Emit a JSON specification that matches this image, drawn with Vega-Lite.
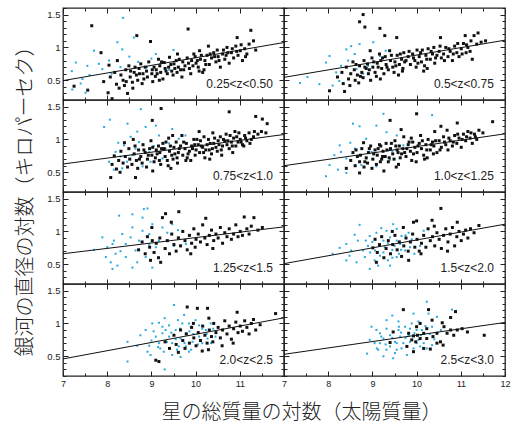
{
"$schema":"https://vega.github.io/schema/vega-lite/v6.json",
"padding":{"left":16,"top":2,"right":2,"bottom":5},
"datasets":{"d":[
{"p":1,"k":"f","a":0.495,"b":1.075,"lab":"0.25<z<0.50"},
{"p":2,"k":"f","a":0.545,"b":1.11,"lab":"0.5<z<0.75"},
{"p":3,"k":"f","a":0.626,"b":1.075,"lab":"0.75<z<1.0"},
{"p":4,"k":"f","a":0.6,"b":1.085,"lab":"1.0<z<1.25"},
{"p":5,"k":"f","a":0.66,"b":1.07,"lab":"1.25<z<1.5"},
{"p":6,"k":"f","a":0.51,"b":1.11,"lab":"1.5<z<2.0"},
{"p":7,"k":"f","a":0.46,"b":1.085,"lab":"2.0<z<2.5"},
{"p":8,"k":"f","a":0.53,"b":1.015,"lab":"2.5<z<3.0"},
{"p":1,"k":"q","x":8.36,"y":1.45},{"p":1,"k":"q","x":7.2,"y":0.64},{"p":1,"k":"q","x":7.29,"y":0.77},{"p":1,"k":"q","x":7.55,"y":0.72},{"p":1,"k":"q","x":7.44,"y":0.52},{"p":1,"k":"q","x":7.51,"y":0.31},{"p":1,"k":"q","x":7.21,"y":0.36},{"p":1,"k":"q","x":7.7,"y":0.95},{"p":1,"k":"q","x":8.6,"y":1.15},{"p":1,"k":"q","x":8.23,"y":1.08},{"p":1,"k":"q","x":8.34,"y":0.97},{"p":1,"k":"q","x":8.04,"y":0.8},{"p":1,"k":"q","x":7.81,"y":0.75},{"p":1,"k":"q","x":7.89,"y":0.67},{"p":1,"k":"q","x":8.1,"y":0.6},{"p":1,"k":"q","x":8.5,"y":0.86},{"p":1,"k":"q","x":8.7,"y":0.78},{"p":1,"k":"q","x":8.9,"y":0.7},{"p":1,"k":"q","x":9.1,"y":0.9},{"p":1,"k":"q","x":9.2,"y":0.75},{"p":1,"k":"q","x":9.4,"y":0.66},{"p":1,"k":"q","x":7.6,"y":0.58},{"p":1,"k":"q","x":8.3,"y":0.7},{"p":1,"k":"q","x":9.0,"y":0.83},{"p":1,"k":"q","x":7.4,"y":0.45},{"p":1,"k":"q","x":9.5,"y":0.96},
{"p":1,"k":"s","x":7.25,"y":0.41},{"p":1,"k":"s","x":7.56,"y":0.35},{"p":1,"k":"s","x":7.65,"y":1.33},{"p":1,"k":"s","x":7.86,"y":0.92},{"p":1,"k":"s","x":7.92,"y":0.48},{"p":1,"k":"s","x":8.02,"y":0.31},{"p":1,"k":"s","x":8.04,"y":0.73},{"p":1,"k":"s","x":8.07,"y":0.55},{"p":1,"k":"s","x":8.11,"y":0.22},{"p":1,"k":"s","x":8.17,"y":0.62},{"p":1,"k":"s","x":8.21,"y":0.44},{"p":1,"k":"s","x":8.23,"y":0.8},{"p":1,"k":"s","x":8.27,"y":0.38},{"p":1,"k":"s","x":8.31,"y":0.58},{"p":1,"k":"s","x":8.36,"y":0.5},{"p":1,"k":"s","x":8.42,"y":0.66},{"p":1,"k":"s","x":8.39,"y":0.42},{"p":1,"k":"s","x":8.46,"y":0.3},{"p":1,"k":"s","x":8.52,"y":0.55},{"p":1,"k":"s","x":8.49,"y":0.72},{"p":1,"k":"s","x":8.57,"y":0.47},{"p":1,"k":"s","x":8.61,"y":0.62},{"p":1,"k":"s","x":8.58,"y":0.38},{"p":1,"k":"s","x":8.66,"y":0.58},{"p":1,"k":"s","x":8.67,"y":1.18},{"p":1,"k":"s","x":8.72,"y":0.68},{"p":1,"k":"s","x":8.69,"y":0.5},{"p":1,"k":"s","x":8.76,"y":0.75},{"p":1,"k":"s","x":8.81,"y":0.6},{"p":1,"k":"s","x":8.79,"y":0.45},{"p":1,"k":"s","x":8.86,"y":0.7},{"p":1,"k":"s","x":8.91,"y":0.55},{"p":1,"k":"s","x":8.89,"y":0.64},{"p":1,"k":"s","x":8.94,"y":0.78},{"p":1,"k":"s","x":8.98,"y":1.09},{"p":1,"k":"s","x":9.01,"y":0.6},{"p":1,"k":"s","x":9.03,"y":0.48},{"p":1,"k":"s","x":9.06,"y":0.7},{"p":1,"k":"s","x":9.11,"y":0.66},{"p":1,"k":"s","x":9.09,"y":0.56},{"p":1,"k":"s","x":9.16,"y":0.82},{"p":1,"k":"s","x":9.21,"y":0.62},{"p":1,"k":"s","x":9.19,"y":0.72},{"p":1,"k":"s","x":9.26,"y":0.52},{"p":1,"k":"s","x":9.31,"y":0.68},{"p":1,"k":"s","x":9.29,"y":0.77},{"p":1,"k":"s","x":9.36,"y":0.6},{"p":1,"k":"s","x":9.41,"y":0.85},{"p":1,"k":"s","x":9.39,"y":0.7},{"p":1,"k":"s","x":9.46,"y":0.64},{"p":1,"k":"s","x":9.51,"y":0.75},{"p":1,"k":"s","x":9.49,"y":0.58},{"p":1,"k":"s","x":9.56,"y":0.8},{"p":1,"k":"s","x":9.61,"y":0.7},{"p":1,"k":"s","x":9.59,"y":0.9},{"p":1,"k":"s","x":9.66,"y":0.66},{"p":1,"k":"s","x":9.71,"y":0.78},{"p":1,"k":"s","x":9.69,"y":0.55},{"p":1,"k":"s","x":9.76,"y":0.72},{"p":1,"k":"s","x":9.81,"y":0.84},{"p":1,"k":"s","x":9.83,"y":1.28},{"p":1,"k":"s","x":9.86,"y":0.68},{"p":1,"k":"s","x":9.91,"y":0.8},{"p":1,"k":"s","x":9.89,"y":0.6},{"p":1,"k":"s","x":9.96,"y":0.9},{"p":1,"k":"s","x":10.01,"y":0.76},{"p":1,"k":"s","x":9.99,"y":0.86},{"p":1,"k":"s","x":10.06,"y":0.7},{"p":1,"k":"s","x":10.11,"y":0.82},{"p":1,"k":"s","x":10.09,"y":0.95},{"p":1,"k":"s","x":10.16,"y":0.62},{"p":1,"k":"s","x":10.21,"y":0.8},{"p":1,"k":"s","x":10.19,"y":0.66},{"p":1,"k":"s","x":10.26,"y":0.88},{"p":1,"k":"s","x":10.31,"y":0.74},{"p":1,"k":"s","x":10.29,"y":1.02},{"p":1,"k":"s","x":10.36,"y":0.84},{"p":1,"k":"s","x":10.41,"y":0.92},{"p":1,"k":"s","x":10.46,"y":0.78},{"p":1,"k":"s","x":10.51,"y":0.86},{"p":1,"k":"s","x":10.49,"y":0.96},{"p":1,"k":"s","x":10.56,"y":0.7},{"p":1,"k":"s","x":10.61,"y":0.9},{"p":1,"k":"s","x":10.66,"y":0.82},{"p":1,"k":"s","x":10.71,"y":1.0},{"p":1,"k":"s","x":10.69,"y":0.88},{"p":1,"k":"s","x":10.76,"y":0.76},{"p":1,"k":"s","x":10.81,"y":0.92},{"p":1,"k":"s","x":10.86,"y":0.84},{"p":1,"k":"s","x":10.91,"y":1.02},{"p":1,"k":"s","x":10.94,"y":1.15},{"p":1,"k":"s","x":10.96,"y":0.88},{"p":1,"k":"s","x":11.01,"y":0.95},{"p":1,"k":"s","x":11.06,"y":0.8},{"p":1,"k":"s","x":11.11,"y":0.98},{"p":1,"k":"s","x":11.16,"y":0.9},{"p":1,"k":"s","x":11.21,"y":1.05},{"p":1,"k":"s","x":11.25,"y":1.26},{"p":1,"k":"s","x":11.31,"y":1.1},{"p":1,"k":"s","x":11.36,"y":0.96},
{"p":1,"k":"s","x":9.02,"y":0.66},{"p":1,"k":"s","x":9.13,"y":0.6},{"p":1,"k":"s","x":9.23,"y":0.78},{"p":1,"k":"s","x":9.33,"y":0.64},{"p":1,"k":"s","x":9.44,"y":0.74},{"p":1,"k":"s","x":9.53,"y":0.68},{"p":1,"k":"s","x":9.63,"y":0.82},{"p":1,"k":"s","x":9.73,"y":0.66},{"p":1,"k":"s","x":9.84,"y":0.76},{"p":1,"k":"s","x":9.94,"y":0.72},{"p":1,"k":"s","x":10.04,"y":0.8},{"p":1,"k":"s","x":10.13,"y":0.88},{"p":1,"k":"s","x":10.23,"y":0.74},{"p":1,"k":"s","x":10.33,"y":0.9},{"p":1,"k":"s","x":10.43,"y":0.86},{"p":1,"k":"s","x":10.53,"y":0.8},{"p":1,"k":"s","x":10.63,"y":0.96},{"p":1,"k":"s","x":10.73,"y":0.92},{"p":1,"k":"s","x":10.83,"y":0.98},{"p":1,"k":"s","x":10.93,"y":0.94},{"p":1,"k":"s","x":11.03,"y":1.04},{"p":1,"k":"s","x":11.13,"y":0.86},{"p":1,"k":"s","x":8.83,"y":0.52},{"p":1,"k":"s","x":8.73,"y":0.6},{"p":1,"k":"s","x":8.63,"y":0.7},{"p":1,"k":"s","x":8.53,"y":0.64},{"p":1,"k":"s","x":8.43,"y":0.48},{"p":1,"k":"s","x":9.18,"y":0.5},{"p":1,"k":"s","x":9.58,"y":0.62},{"p":1,"k":"s","x":10.08,"y":0.64},
{"p":2,"k":"q","x":7.36,"y":0.46},{"p":2,"k":"q","x":7.53,"y":0.55},{"p":2,"k":"q","x":7.8,"y":0.44},{"p":2,"k":"q","x":7.95,"y":0.77},{"p":2,"k":"q","x":8.03,"y":0.87},{"p":2,"k":"q","x":8.18,"y":0.62},{"p":2,"k":"q","x":8.29,"y":0.72},{"p":2,"k":"q","x":8.41,"y":0.97},{"p":2,"k":"q","x":8.52,"y":1.02},{"p":2,"k":"q","x":8.6,"y":0.9},{"p":2,"k":"q","x":8.71,"y":1.05},{"p":2,"k":"q","x":8.64,"y":0.67},{"p":2,"k":"q","x":8.79,"y":0.6},{"p":2,"k":"q","x":8.1,"y":0.42},{"p":2,"k":"q","x":9.02,"y":1.08},{"p":2,"k":"q","x":9.17,"y":0.87},{"p":2,"k":"q","x":8.25,"y":0.49},{"p":2,"k":"q","x":8.45,"y":0.8},{"p":2,"k":"q","x":8.9,"y":0.72},{"p":2,"k":"q","x":9.3,"y":0.95},
{"p":2,"k":"s","x":8.03,"y":0.34},{"p":2,"k":"s","x":8.37,"y":0.33},{"p":2,"k":"s","x":8.21,"y":0.55},{"p":2,"k":"s","x":8.31,"y":0.62},{"p":2,"k":"s","x":8.34,"y":0.45},{"p":2,"k":"s","x":8.41,"y":0.7},{"p":2,"k":"s","x":8.46,"y":0.52},{"p":2,"k":"s","x":8.51,"y":0.6},{"p":2,"k":"s","x":8.49,"y":0.42},{"p":2,"k":"s","x":8.56,"y":0.78},{"p":2,"k":"s","x":8.61,"y":0.5},{"p":2,"k":"s","x":8.59,"y":0.66},{"p":2,"k":"s","x":8.66,"y":0.58},{"p":2,"k":"s","x":8.71,"y":0.72},{"p":2,"k":"s","x":8.69,"y":0.46},{"p":2,"k":"s","x":8.71,"y":1.39},{"p":2,"k":"s","x":8.76,"y":0.62},{"p":2,"k":"s","x":8.79,"y":1.5},{"p":2,"k":"s","x":8.81,"y":0.8},{"p":2,"k":"s","x":8.79,"y":0.54},{"p":2,"k":"s","x":8.83,"y":1.31},{"p":2,"k":"s","x":8.86,"y":0.68},{"p":2,"k":"s","x":8.91,"y":0.6},{"p":2,"k":"s","x":8.89,"y":0.75},{"p":2,"k":"s","x":8.96,"y":0.5},{"p":2,"k":"s","x":8.95,"y":0.95},{"p":2,"k":"s","x":9.01,"y":0.7},{"p":2,"k":"s","x":8.99,"y":0.84},{"p":2,"k":"s","x":9.06,"y":0.62},{"p":2,"k":"s","x":9.11,"y":0.76},{"p":2,"k":"s","x":9.09,"y":0.56},{"p":2,"k":"s","x":9.16,"y":0.9},{"p":2,"k":"s","x":9.17,"y":1.29},{"p":2,"k":"s","x":9.21,"y":0.68},{"p":2,"k":"s","x":9.19,"y":0.8},{"p":2,"k":"s","x":9.26,"y":0.6},{"p":2,"k":"s","x":9.28,"y":1.18},{"p":2,"k":"s","x":9.31,"y":0.74},{"p":2,"k":"s","x":9.29,"y":0.86},{"p":2,"k":"s","x":9.36,"y":0.66},{"p":2,"k":"s","x":9.41,"y":0.8},{"p":2,"k":"s","x":9.39,"y":0.95},{"p":2,"k":"s","x":9.46,"y":0.7},{"p":2,"k":"s","x":9.51,"y":0.78},{"p":2,"k":"s","x":9.49,"y":0.62},{"p":2,"k":"s","x":9.55,"y":1.15},{"p":2,"k":"s","x":9.56,"y":0.88},{"p":2,"k":"s","x":9.61,"y":0.74},{"p":2,"k":"s","x":9.59,"y":0.58},{"p":2,"k":"s","x":9.66,"y":0.82},{"p":2,"k":"s","x":9.71,"y":0.92},{"p":2,"k":"s","x":9.69,"y":0.68},{"p":2,"k":"s","x":9.76,"y":0.8},{"p":2,"k":"s","x":9.81,"y":0.86},{"p":2,"k":"s","x":9.86,"y":0.74},{"p":2,"k":"s","x":9.91,"y":0.9},{"p":2,"k":"s","x":9.96,"y":0.8},{"p":2,"k":"s","x":10.01,"y":0.96},{"p":2,"k":"s","x":9.99,"y":0.7},{"p":2,"k":"s","x":10.06,"y":0.86},{"p":2,"k":"s","x":10.11,"y":0.78},{"p":2,"k":"s","x":10.09,"y":0.92},{"p":2,"k":"s","x":10.16,"y":0.64},{"p":2,"k":"s","x":10.21,"y":0.88},{"p":2,"k":"s","x":10.26,"y":0.98},{"p":2,"k":"s","x":10.24,"y":0.68},{"p":2,"k":"s","x":10.31,"y":0.82},{"p":2,"k":"s","x":10.36,"y":0.9},{"p":2,"k":"s","x":10.41,"y":0.76},{"p":2,"k":"s","x":10.39,"y":1.0},{"p":2,"k":"s","x":10.46,"y":0.88},{"p":2,"k":"s","x":10.51,"y":0.94},{"p":2,"k":"s","x":10.54,"y":1.15},{"p":2,"k":"s","x":10.56,"y":0.84},{"p":2,"k":"s","x":10.61,"y":0.9},{"p":2,"k":"s","x":10.66,"y":1.0},{"p":2,"k":"s","x":10.71,"y":0.86},{"p":2,"k":"s","x":10.76,"y":0.94},{"p":2,"k":"s","x":10.81,"y":0.8},{"p":2,"k":"s","x":10.86,"y":1.02},{"p":2,"k":"s","x":10.91,"y":0.92},{"p":2,"k":"s","x":10.96,"y":0.86},{"p":2,"k":"s","x":11.01,"y":0.98},{"p":2,"k":"s","x":11.06,"y":1.06},{"p":2,"k":"s","x":11.1,"y":1.18},{"p":2,"k":"s","x":11.12,"y":0.92},{"p":2,"k":"s","x":11.16,"y":1.0},{"p":2,"k":"s","x":11.21,"y":0.94},{"p":2,"k":"s","x":11.26,"y":0.82},{"p":2,"k":"s","x":11.3,"y":1.18},{"p":2,"k":"s","x":11.36,"y":1.05},{"p":2,"k":"s","x":11.39,"y":1.22},{"p":2,"k":"s","x":11.46,"y":1.08},{"p":2,"k":"s","x":11.56,"y":1.1},
{"p":2,"k":"s","x":9.03,"y":0.78},{"p":2,"k":"s","x":9.13,"y":0.7},{"p":2,"k":"s","x":9.23,"y":0.84},{"p":2,"k":"s","x":9.33,"y":0.7},{"p":2,"k":"s","x":9.43,"y":0.88},{"p":2,"k":"s","x":9.53,"y":0.72},{"p":2,"k":"s","x":9.63,"y":0.9},{"p":2,"k":"s","x":9.73,"y":0.78},{"p":2,"k":"s","x":9.83,"y":0.94},{"p":2,"k":"s","x":9.93,"y":0.84},{"p":2,"k":"s","x":10.03,"y":0.76},{"p":2,"k":"s","x":10.13,"y":0.96},{"p":2,"k":"s","x":10.23,"y":0.82},{"p":2,"k":"s","x":10.33,"y":0.94},{"p":2,"k":"s","x":10.43,"y":0.84},{"p":2,"k":"s","x":10.53,"y":1.02},{"p":2,"k":"s","x":10.63,"y":0.8},{"p":2,"k":"s","x":10.73,"y":0.98},{"p":2,"k":"s","x":10.83,"y":0.9},{"p":2,"k":"s","x":10.93,"y":1.06},{"p":2,"k":"s","x":11.03,"y":0.9},{"p":2,"k":"s","x":11.13,"y":1.04},{"p":2,"k":"s","x":11.23,"y":1.1},{"p":2,"k":"s","x":8.63,"y":0.74},{"p":2,"k":"s","x":8.73,"y":0.56},{"p":2,"k":"s","x":8.83,"y":0.7},{"p":2,"k":"s","x":8.93,"y":0.66},{"p":2,"k":"s","x":9.18,"y":0.52},{"p":2,"k":"s","x":9.68,"y":0.64},{"p":2,"k":"s","x":10.18,"y":0.72},
{"p":3,"k":"q","x":7.93,"y":1.19},{"p":3,"k":"q","x":8.06,"y":1.3},{"p":3,"k":"q","x":8.46,"y":1.24},{"p":3,"k":"q","x":8.76,"y":1.46},{"p":3,"k":"q","x":8.87,"y":1.19},{"p":3,"k":"q","x":9.1,"y":1.21},{"p":3,"k":"q","x":8.04,"y":0.66},{"p":3,"k":"q","x":8.19,"y":0.81},{"p":3,"k":"q","x":8.34,"y":0.56},{"p":3,"k":"q","x":8.38,"y":0.91},{"p":3,"k":"q","x":8.57,"y":0.76},{"p":3,"k":"q","x":8.72,"y":0.96},{"p":3,"k":"q","x":8.8,"y":0.59},{"p":3,"k":"q","x":8.95,"y":0.81},{"p":3,"k":"q","x":9.17,"y":1.06},{"p":3,"k":"q","x":9.32,"y":0.86},{"p":3,"k":"q","x":9.47,"y":1.16},{"p":3,"k":"q","x":9.62,"y":1.01},{"p":3,"k":"q","x":8.15,"y":0.54},{"p":3,"k":"q","x":8.3,"y":0.74},{"p":3,"k":"q","x":8.53,"y":1.04},{"p":3,"k":"q","x":8.98,"y":0.66},{"p":3,"k":"q","x":9.25,"y":0.71},{"p":3,"k":"q","x":9.4,"y":0.94},{"p":3,"k":"q","x":8.64,"y":0.86},{"p":3,"k":"q","x":9.77,"y":1.06},{"p":3,"k":"q","x":8.25,"y":0.95},{"p":3,"k":"q","x":8.68,"y":1.12},{"p":3,"k":"q","x":9.05,"y":0.9},{"p":3,"k":"q","x":8.45,"y":0.66},
{"p":3,"k":"s","x":8.08,"y":0.42},{"p":3,"k":"s","x":8.64,"y":0.42},{"p":3,"k":"s","x":8.11,"y":0.62},{"p":3,"k":"s","x":8.16,"y":0.75},{"p":3,"k":"s","x":8.21,"y":0.55},{"p":3,"k":"s","x":8.26,"y":0.68},{"p":3,"k":"s","x":8.31,"y":0.82},{"p":3,"k":"s","x":8.29,"y":0.5},{"p":3,"k":"s","x":8.36,"y":0.64},{"p":3,"k":"s","x":8.41,"y":0.74},{"p":3,"k":"s","x":8.39,"y":0.95},{"p":3,"k":"s","x":8.46,"y":0.58},{"p":3,"k":"s","x":8.51,"y":0.7},{"p":3,"k":"s","x":8.49,"y":0.86},{"p":3,"k":"s","x":8.56,"y":0.62},{"p":3,"k":"s","x":8.61,"y":0.78},{"p":3,"k":"s","x":8.59,"y":1.0},{"p":3,"k":"s","x":8.66,"y":0.68},{"p":3,"k":"s","x":8.71,"y":0.84},{"p":3,"k":"s","x":8.69,"y":0.56},{"p":3,"k":"s","x":8.76,"y":0.74},{"p":3,"k":"s","x":8.81,"y":0.92},{"p":3,"k":"s","x":8.79,"y":0.64},{"p":3,"k":"s","x":8.86,"y":0.8},{"p":3,"k":"s","x":8.91,"y":0.7},{"p":3,"k":"s","x":8.89,"y":0.58},{"p":3,"k":"s","x":8.96,"y":0.86},{"p":3,"k":"s","x":9.01,"y":0.76},{"p":3,"k":"s","x":8.99,"y":0.98},{"p":3,"k":"s","x":9.02,"y":1.29},{"p":3,"k":"s","x":9.03,"y":0.52},{"p":3,"k":"s","x":9.06,"y":0.66},{"p":3,"k":"s","x":9.11,"y":0.84},{"p":3,"k":"s","x":9.09,"y":0.72},{"p":3,"k":"s","x":9.16,"y":0.9},{"p":3,"k":"s","x":9.21,"y":0.62},{"p":3,"k":"s","x":9.19,"y":0.8},{"p":3,"k":"s","x":9.22,"y":1.47},{"p":3,"k":"s","x":9.26,"y":0.94},{"p":3,"k":"s","x":9.31,"y":0.74},{"p":3,"k":"s","x":9.29,"y":0.86},{"p":3,"k":"s","x":9.36,"y":0.68},{"p":3,"k":"s","x":9.41,"y":0.82},{"p":3,"k":"s","x":9.39,"y":1.02},{"p":3,"k":"s","x":9.46,"y":0.76},{"p":3,"k":"s","x":9.44,"y":0.56},{"p":3,"k":"s","x":9.51,"y":0.88},{"p":3,"k":"s","x":9.49,"y":0.7},{"p":3,"k":"s","x":9.56,"y":0.96},{"p":3,"k":"s","x":9.61,"y":0.8},{"p":3,"k":"s","x":9.59,"y":0.64},{"p":3,"k":"s","x":9.66,"y":0.9},{"p":3,"k":"s","x":9.71,"y":0.76},{"p":3,"k":"s","x":9.69,"y":1.06},{"p":3,"k":"s","x":9.76,"y":0.86},{"p":3,"k":"s","x":9.81,"y":0.72},{"p":3,"k":"s","x":9.79,"y":0.94},{"p":3,"k":"s","x":9.86,"y":0.82},{"p":3,"k":"s","x":9.91,"y":0.9},{"p":3,"k":"s","x":9.89,"y":0.68},{"p":3,"k":"s","x":9.96,"y":1.0},{"p":3,"k":"s","x":10.01,"y":0.84},{"p":3,"k":"s","x":9.99,"y":0.76},{"p":3,"k":"s","x":10.06,"y":0.92},{"p":3,"k":"s","x":10.11,"y":0.98},{"p":3,"k":"s","x":10.09,"y":0.8},{"p":3,"k":"s","x":10.16,"y":0.88},{"p":3,"k":"s","x":10.21,"y":0.72},{"p":3,"k":"s","x":10.19,"y":1.04},{"p":3,"k":"s","x":10.26,"y":0.92},{"p":3,"k":"s","x":10.31,"y":0.84},{"p":3,"k":"s","x":10.29,"y":1.0},{"p":3,"k":"s","x":10.32,"y":0.7},{"p":3,"k":"s","x":10.36,"y":0.78},{"p":3,"k":"s","x":10.41,"y":0.94},{"p":3,"k":"s","x":10.39,"y":1.1},{"p":3,"k":"s","x":10.46,"y":0.88},{"p":3,"k":"s","x":10.51,"y":0.98},{"p":3,"k":"s","x":10.49,"y":0.82},{"p":3,"k":"s","x":10.56,"y":1.04},{"p":3,"k":"s","x":10.61,"y":0.9},{"p":3,"k":"s","x":10.59,"y":0.76},{"p":3,"k":"s","x":10.66,"y":0.98},{"p":3,"k":"s","x":10.71,"y":0.92},{"p":3,"k":"s","x":10.69,"y":1.08},{"p":3,"k":"s","x":10.76,"y":0.86},{"p":3,"k":"s","x":10.76,"y":1.42},{"p":3,"k":"s","x":10.81,"y":0.96},{"p":3,"k":"s","x":10.86,"y":1.02},{"p":3,"k":"s","x":10.84,"y":0.8},{"p":3,"k":"s","x":10.91,"y":0.9},{"p":3,"k":"s","x":10.89,"y":1.12},{"p":3,"k":"s","x":10.96,"y":0.96},{"p":3,"k":"s","x":11.01,"y":1.0},{"p":3,"k":"s","x":11.06,"y":0.92},{"p":3,"k":"s","x":11.11,"y":1.06},{"p":3,"k":"s","x":11.09,"y":0.9},{"p":3,"k":"s","x":11.16,"y":0.98},{"p":3,"k":"s","x":11.21,"y":1.1},{"p":3,"k":"s","x":11.26,"y":1.0},{"p":3,"k":"s","x":11.31,"y":1.04},{"p":3,"k":"s","x":11.36,"y":1.35},{"p":3,"k":"s","x":11.41,"y":1.08},{"p":3,"k":"s","x":11.49,"y":1.12},{"p":3,"k":"s","x":11.51,"y":1.31},{"p":3,"k":"s","x":11.62,"y":1.24},{"p":3,"k":"s","x":11.59,"y":1.1},
{"p":3,"k":"s","x":9.03,"y":0.88},{"p":3,"k":"s","x":9.13,"y":0.78},{"p":3,"k":"s","x":9.23,"y":0.86},{"p":3,"k":"s","x":9.33,"y":0.96},{"p":3,"k":"s","x":9.43,"y":0.9},{"p":3,"k":"s","x":9.53,"y":0.78},{"p":3,"k":"s","x":9.63,"y":0.86},{"p":3,"k":"s","x":9.73,"y":0.96},{"p":3,"k":"s","x":9.83,"y":0.78},{"p":3,"k":"s","x":9.93,"y":0.86},{"p":3,"k":"s","x":10.03,"y":1.0},{"p":3,"k":"s","x":10.13,"y":0.9},{"p":3,"k":"s","x":10.23,"y":0.84},{"p":3,"k":"s","x":10.33,"y":0.94},{"p":3,"k":"s","x":10.43,"y":1.02},{"p":3,"k":"s","x":10.53,"y":0.92},{"p":3,"k":"s","x":10.63,"y":1.0},{"p":3,"k":"s","x":10.73,"y":0.98},{"p":3,"k":"s","x":10.83,"y":0.9},{"p":3,"k":"s","x":10.93,"y":1.04},{"p":3,"k":"s","x":11.03,"y":0.96},{"p":3,"k":"s","x":11.13,"y":1.02},{"p":3,"k":"s","x":11.23,"y":0.94},{"p":3,"k":"s","x":11.33,"y":1.12},{"p":3,"k":"s","x":8.63,"y":0.9},{"p":3,"k":"s","x":8.73,"y":0.7},{"p":3,"k":"s","x":8.83,"y":0.84},{"p":3,"k":"s","x":8.93,"y":0.76},{"p":3,"k":"s","x":9.18,"y":0.68},{"p":3,"k":"s","x":9.38,"y":0.6},{"p":3,"k":"s","x":9.58,"y":0.72},{"p":3,"k":"s","x":9.78,"y":0.68},{"p":3,"k":"s","x":9.98,"y":0.92},{"p":3,"k":"s","x":10.18,"y":0.8},{"p":3,"k":"s","x":10.38,"y":0.86},{"p":3,"k":"s","x":10.58,"y":0.84},{"p":3,"k":"s","x":10.78,"y":1.06},{"p":3,"k":"s","x":10.98,"y":1.1},{"p":3,"k":"s","x":9.48,"y":1.06},{"p":3,"k":"s","x":10.08,"y":1.12},
{"p":4,"k":"q","x":7.95,"y":0.44},{"p":4,"k":"q","x":8.03,"y":0.61},{"p":4,"k":"q","x":8.14,"y":0.76},{"p":4,"k":"q","x":8.26,"y":0.91},{"p":4,"k":"q","x":8.22,"y":0.54},{"p":4,"k":"q","x":8.41,"y":0.71},{"p":4,"k":"q","x":8.56,"y":1.24},{"p":4,"k":"q","x":8.71,"y":1.2},{"p":4,"k":"q","x":8.6,"y":0.86},{"p":4,"k":"q","x":8.75,"y":0.61},{"p":4,"k":"q","x":8.86,"y":1.01},{"p":4,"k":"q","x":8.98,"y":0.81},{"p":4,"k":"q","x":9.09,"y":1.21},{"p":4,"k":"q","x":9.17,"y":0.91},{"p":4,"k":"q","x":9.25,"y":1.39},{"p":4,"k":"q","x":9.32,"y":1.11},{"p":4,"k":"q","x":9.4,"y":0.69},{"p":4,"k":"q","x":9.55,"y":1.06},{"p":4,"k":"q","x":9.09,"y":0.59},{"p":4,"k":"q","x":10.35,"y":1.37},{"p":4,"k":"q","x":8.86,"y":0.71},{"p":4,"k":"q","x":8.41,"y":0.49},{"p":4,"k":"q","x":8.29,"y":0.81},{"p":4,"k":"q","x":9.7,"y":0.91},{"p":4,"k":"q","x":9.93,"y":0.96},{"p":4,"k":"q","x":8.5,"y":0.95},{"p":4,"k":"q","x":9.0,"y":0.7},{"p":4,"k":"q","x":9.45,"y":0.82},
{"p":4,"k":"s","x":8.41,"y":0.56},{"p":4,"k":"s","x":8.71,"y":0.49},{"p":4,"k":"s","x":8.51,"y":0.68},{"p":4,"k":"s","x":8.56,"y":0.8},{"p":4,"k":"s","x":8.61,"y":0.6},{"p":4,"k":"s","x":8.66,"y":0.74},{"p":4,"k":"s","x":8.71,"y":0.66},{"p":4,"k":"s","x":8.76,"y":0.86},{"p":4,"k":"s","x":8.81,"y":0.58},{"p":4,"k":"s","x":8.8,"y":0.95},{"p":4,"k":"s","x":8.86,"y":0.72},{"p":4,"k":"s","x":8.91,"y":0.8},{"p":4,"k":"s","x":8.89,"y":0.64},{"p":4,"k":"s","x":8.96,"y":0.9},{"p":4,"k":"s","x":9.01,"y":0.7},{"p":4,"k":"s","x":8.99,"y":0.56},{"p":4,"k":"s","x":9.06,"y":0.84},{"p":4,"k":"s","x":9.11,"y":0.76},{"p":4,"k":"s","x":9.09,"y":0.62},{"p":4,"k":"s","x":9.16,"y":0.92},{"p":4,"k":"s","x":9.21,"y":0.7},{"p":4,"k":"s","x":9.19,"y":0.9},{"p":4,"k":"s","x":9.26,"y":0.52},{"p":4,"k":"s","x":9.24,"y":0.82},{"p":4,"k":"s","x":9.31,"y":0.94},{"p":4,"k":"s","x":9.29,"y":0.74},{"p":4,"k":"s","x":9.36,"y":0.66},{"p":4,"k":"s","x":9.4,"y":1.29},{"p":4,"k":"s","x":9.41,"y":0.86},{"p":4,"k":"s","x":9.46,"y":0.78},{"p":4,"k":"s","x":9.51,"y":0.98},{"p":4,"k":"s","x":9.49,"y":0.7},{"p":4,"k":"s","x":9.56,"y":0.84},{"p":4,"k":"s","x":9.54,"y":0.58},{"p":4,"k":"s","x":9.61,"y":0.9},{"p":4,"k":"s","x":9.59,"y":0.62},{"p":4,"k":"s","x":9.66,"y":0.78},{"p":4,"k":"s","x":9.65,"y":1.15},{"p":4,"k":"s","x":9.71,"y":1.04},{"p":4,"k":"s","x":9.69,"y":0.86},{"p":4,"k":"s","x":9.76,"y":0.74},{"p":4,"k":"s","x":9.81,"y":0.92},{"p":4,"k":"s","x":9.86,"y":0.82},{"p":4,"k":"s","x":9.91,"y":0.96},{"p":4,"k":"s","x":9.89,"y":0.68},{"p":4,"k":"s","x":9.96,"y":0.88},{"p":4,"k":"s","x":10.0,"y":1.39},{"p":4,"k":"s","x":10.01,"y":0.8},{"p":4,"k":"s","x":9.99,"y":0.66},{"p":4,"k":"s","x":10.06,"y":0.94},{"p":4,"k":"s","x":10.11,"y":0.86},{"p":4,"k":"s","x":10.09,"y":1.06},{"p":4,"k":"s","x":10.16,"y":0.76},{"p":4,"k":"s","x":10.21,"y":0.92},{"p":4,"k":"s","x":10.26,"y":1.0},{"p":4,"k":"s","x":10.24,"y":0.72},{"p":4,"k":"s","x":10.31,"y":0.84},{"p":4,"k":"s","x":10.36,"y":0.96},{"p":4,"k":"s","x":10.41,"y":1.12},{"p":4,"k":"s","x":10.39,"y":0.9},{"p":4,"k":"s","x":10.46,"y":0.8},{"p":4,"k":"s","x":10.51,"y":0.98},{"p":4,"k":"s","x":10.56,"y":0.88},{"p":4,"k":"s","x":10.55,"y":1.2},{"p":4,"k":"s","x":10.61,"y":1.04},{"p":4,"k":"s","x":10.66,"y":0.92},{"p":4,"k":"s","x":10.71,"y":0.84},{"p":4,"k":"s","x":10.69,"y":1.14},{"p":4,"k":"s","x":10.76,"y":0.98},{"p":4,"k":"s","x":10.81,"y":0.9},{"p":4,"k":"s","x":10.86,"y":1.06},{"p":4,"k":"s","x":10.92,"y":1.25},{"p":4,"k":"s","x":10.91,"y":0.94},{"p":4,"k":"s","x":10.96,"y":1.02},{"p":4,"k":"s","x":11.01,"y":0.88},{"p":4,"k":"s","x":11.06,"y":1.08},{"p":4,"k":"s","x":11.11,"y":0.98},{"p":4,"k":"s","x":11.16,"y":1.12},{"p":4,"k":"s","x":11.21,"y":1.02},{"p":4,"k":"s","x":11.26,"y":0.94},{"p":4,"k":"s","x":11.31,"y":1.08},{"p":4,"k":"s","x":11.36,"y":1.0},{"p":4,"k":"s","x":11.41,"y":1.14},{"p":4,"k":"s","x":11.5,"y":1.1},{"p":4,"k":"s","x":11.72,"y":1.27},
{"p":4,"k":"s","x":9.03,"y":0.78},{"p":4,"k":"s","x":9.13,"y":0.86},{"p":4,"k":"s","x":9.23,"y":0.74},{"p":4,"k":"s","x":9.33,"y":0.84},{"p":4,"k":"s","x":9.43,"y":0.94},{"p":4,"k":"s","x":9.53,"y":0.9},{"p":4,"k":"s","x":9.63,"y":0.72},{"p":4,"k":"s","x":9.73,"y":0.8},{"p":4,"k":"s","x":9.83,"y":0.96},{"p":4,"k":"s","x":9.93,"y":0.78},{"p":4,"k":"s","x":10.03,"y":0.9},{"p":4,"k":"s","x":10.13,"y":0.98},{"p":4,"k":"s","x":10.23,"y":0.84},{"p":4,"k":"s","x":10.33,"y":0.92},{"p":4,"k":"s","x":10.43,"y":0.98},{"p":4,"k":"s","x":10.53,"y":0.84},{"p":4,"k":"s","x":10.63,"y":0.96},{"p":4,"k":"s","x":10.73,"y":1.02},{"p":4,"k":"s","x":10.83,"y":0.96},{"p":4,"k":"s","x":10.93,"y":1.08},{"p":4,"k":"s","x":11.03,"y":1.0},{"p":4,"k":"s","x":11.13,"y":1.04},{"p":4,"k":"s","x":11.23,"y":1.1},{"p":4,"k":"s","x":11.33,"y":1.04},{"p":4,"k":"s","x":8.63,"y":0.84},{"p":4,"k":"s","x":8.73,"y":0.76},{"p":4,"k":"s","x":8.83,"y":0.66},{"p":4,"k":"s","x":8.93,"y":0.86},{"p":4,"k":"s","x":9.18,"y":0.66},{"p":4,"k":"s","x":9.38,"y":0.72},{"p":4,"k":"s","x":9.58,"y":0.8},{"p":4,"k":"s","x":9.78,"y":0.86},{"p":4,"k":"s","x":10.18,"y":0.7},{"p":4,"k":"s","x":10.38,"y":0.78},{"p":4,"k":"s","x":9.88,"y":1.02},
{"p":5,"k":"q","x":8.12,"y":0.43},{"p":5,"k":"q","x":8.23,"y":0.48},{"p":5,"k":"q","x":8.08,"y":0.53},{"p":5,"k":"q","x":8.27,"y":1.24},{"p":5,"k":"q","x":8.57,"y":1.26},{"p":5,"k":"q","x":8.83,"y":1.34},{"p":5,"k":"q","x":8.91,"y":1.35},{"p":5,"k":"q","x":8.8,"y":1.21},{"p":5,"k":"q","x":8.57,"y":1.06},{"p":5,"k":"q","x":8.34,"y":0.96},{"p":5,"k":"q","x":8.15,"y":0.86},{"p":5,"k":"q","x":8.0,"y":0.76},{"p":5,"k":"q","x":8.19,"y":0.66},{"p":5,"k":"q","x":8.42,"y":0.61},{"p":5,"k":"q","x":8.64,"y":0.71},{"p":5,"k":"q","x":8.72,"y":0.86},{"p":5,"k":"q","x":8.95,"y":0.96},{"p":5,"k":"q","x":9.02,"y":1.11},{"p":5,"k":"q","x":9.25,"y":1.06},{"p":5,"k":"q","x":9.36,"y":0.98},{"p":5,"k":"q","x":9.47,"y":1.11},{"p":5,"k":"q","x":9.62,"y":0.91},{"p":5,"k":"q","x":9.78,"y":0.81},{"p":5,"k":"q","x":9.1,"y":0.76},{"p":5,"k":"q","x":8.87,"y":0.61},{"p":5,"k":"q","x":9.02,"y":0.45},{"p":5,"k":"q","x":8.57,"y":0.45},{"p":5,"k":"q","x":8.42,"y":0.81},{"p":5,"k":"q","x":7.97,"y":0.61},{"p":5,"k":"q","x":7.89,"y":0.91},{"p":5,"k":"q","x":8.12,"y":0.81},{"p":5,"k":"q","x":8.53,"y":0.91},{"p":5,"k":"q","x":9.17,"y":0.86},{"p":5,"k":"q","x":9.32,"y":0.73},{"p":5,"k":"q","x":9.51,"y":0.78},{"p":5,"k":"q","x":8.8,"y":1.01},{"p":5,"k":"q","x":8.68,"y":0.53},{"p":5,"k":"q","x":9.36,"y":0.86},{"p":5,"k":"q","x":7.7,"y":0.72},{"p":5,"k":"q","x":8.3,"y":0.7},{"p":5,"k":"q","x":9.6,"y":1.02},{"p":5,"k":"q","x":8.95,"y":0.8},
{"p":5,"k":"s","x":8.98,"y":0.56},{"p":5,"k":"s","x":9.21,"y":0.53},{"p":5,"k":"s","x":8.71,"y":0.72},{"p":5,"k":"s","x":8.79,"y":0.84},{"p":5,"k":"s","x":8.86,"y":0.66},{"p":5,"k":"s","x":8.91,"y":0.92},{"p":5,"k":"s","x":8.96,"y":0.76},{"p":5,"k":"s","x":9.01,"y":1.06},{"p":5,"k":"s","x":9.02,"y":0.86},{"p":5,"k":"s","x":9.06,"y":0.68},{"p":5,"k":"s","x":9.11,"y":0.82},{"p":5,"k":"s","x":9.16,"y":0.6},{"p":5,"k":"s","x":9.19,"y":0.9},{"p":5,"k":"s","x":9.25,"y":1.21},{"p":5,"k":"s","x":9.31,"y":0.74},{"p":5,"k":"s","x":9.32,"y":1.27},{"p":5,"k":"s","x":9.36,"y":0.86},{"p":5,"k":"s","x":9.41,"y":0.66},{"p":5,"k":"s","x":9.46,"y":0.96},{"p":5,"k":"s","x":9.45,"y":1.14},{"p":5,"k":"s","x":9.51,"y":0.8},{"p":5,"k":"s","x":9.56,"y":0.7},{"p":5,"k":"s","x":9.61,"y":0.9},{"p":5,"k":"s","x":9.62,"y":1.3},{"p":5,"k":"s","x":9.66,"y":0.78},{"p":5,"k":"s","x":9.71,"y":1.0},{"p":5,"k":"s","x":9.76,"y":0.86},{"p":5,"k":"s","x":9.81,"y":0.72},{"p":5,"k":"s","x":9.86,"y":0.94},{"p":5,"k":"s","x":9.91,"y":0.82},{"p":5,"k":"s","x":9.89,"y":0.66},{"p":5,"k":"s","x":9.96,"y":1.04},{"p":5,"k":"s","x":10.01,"y":0.88},{"p":5,"k":"s","x":9.99,"y":0.76},{"p":5,"k":"s","x":10.06,"y":0.96},{"p":5,"k":"s","x":10.11,"y":0.84},{"p":5,"k":"s","x":10.16,"y":1.1},{"p":5,"k":"s","x":10.21,"y":0.9},{"p":5,"k":"s","x":10.23,"y":1.2},{"p":5,"k":"s","x":10.26,"y":0.8},{"p":5,"k":"s","x":10.31,"y":0.94},{"p":5,"k":"s","x":10.36,"y":1.02},{"p":5,"k":"s","x":10.41,"y":0.86},{"p":5,"k":"s","x":10.39,"y":0.74},{"p":5,"k":"s","x":10.46,"y":0.96},{"p":5,"k":"s","x":10.51,"y":0.9},{"p":5,"k":"s","x":10.56,"y":1.06},{"p":5,"k":"s","x":10.61,"y":0.82},{"p":5,"k":"s","x":10.66,"y":0.98},{"p":5,"k":"s","x":10.71,"y":0.92},{"p":5,"k":"s","x":10.76,"y":1.04},{"p":5,"k":"s","x":10.81,"y":0.88},{"p":5,"k":"s","x":10.86,"y":0.96},{"p":5,"k":"s","x":10.91,"y":1.1},{"p":5,"k":"s","x":10.96,"y":0.92},{"p":5,"k":"s","x":11.01,"y":1.0},{"p":5,"k":"s","x":11.06,"y":0.94},{"p":5,"k":"s","x":11.1,"y":1.22},{"p":5,"k":"s","x":11.16,"y":1.04},{"p":5,"k":"s","x":11.21,"y":0.96},{"p":5,"k":"s","x":11.26,"y":1.08},{"p":5,"k":"s","x":11.32,"y":1.21},{"p":5,"k":"s","x":11.41,"y":1.02},{"p":5,"k":"s","x":11.51,"y":1.06},
{"p":6,"k":"q","x":8.71,"y":1.1},{"p":6,"k":"q","x":8.26,"y":0.75},{"p":6,"k":"q","x":8.41,"y":0.81},{"p":6,"k":"q","x":8.67,"y":0.86},{"p":6,"k":"q","x":8.94,"y":0.93},{"p":6,"k":"q","x":8.9,"y":0.78},{"p":6,"k":"q","x":8.48,"y":0.63},{"p":6,"k":"q","x":8.64,"y":0.53},{"p":6,"k":"q","x":8.83,"y":0.61},{"p":6,"k":"q","x":8.94,"y":0.43},{"p":6,"k":"q","x":9.13,"y":0.48},{"p":6,"k":"q","x":9.17,"y":0.63},{"p":6,"k":"q","x":9.28,"y":0.76},{"p":6,"k":"q","x":9.4,"y":0.91},{"p":6,"k":"q","x":9.55,"y":1.04},{"p":6,"k":"q","x":9.47,"y":1.11},{"p":6,"k":"q","x":9.63,"y":0.81},{"p":6,"k":"q","x":9.74,"y":0.71},{"p":6,"k":"q","x":9.55,"y":0.61},{"p":6,"k":"q","x":9.4,"y":0.48},{"p":6,"k":"q","x":9.09,"y":0.98},{"p":6,"k":"q","x":9.25,"y":0.86},{"p":6,"k":"q","x":9.89,"y":0.88},{"p":6,"k":"q","x":10.08,"y":0.78},{"p":6,"k":"q","x":10.16,"y":1.01},{"p":6,"k":"q","x":8.52,"y":0.71},{"p":6,"k":"q","x":8.41,"y":0.56},{"p":6,"k":"q","x":8.79,"y":0.71},{"p":6,"k":"q","x":9.06,"y":0.71},{"p":6,"k":"q","x":9.32,"y":1.01},{"p":6,"k":"q","x":9.66,"y":0.93},{"p":6,"k":"q","x":9.82,"y":0.98},{"p":6,"k":"q","x":8.1,"y":0.66},{"p":6,"k":"q","x":9.0,"y":0.84},{"p":6,"k":"q","x":9.45,"y":0.72},{"p":6,"k":"q","x":9.2,"y":0.92},{"p":6,"k":"q","x":8.6,"y":0.95},{"p":6,"k":"q","x":9.6,"y":0.66},
{"p":6,"k":"q","x":8.95,"y":0.68},{"p":6,"k":"q","x":9.05,"y":0.56},{"p":6,"k":"q","x":9.15,"y":0.78},{"p":6,"k":"q","x":9.25,"y":0.68},{"p":6,"k":"q","x":9.35,"y":0.82},{"p":6,"k":"q","x":9.45,"y":0.6},{"p":6,"k":"q","x":9.55,"y":0.86},{"p":6,"k":"q","x":9.65,"y":0.72},{"p":6,"k":"q","x":9.75,"y":0.94},{"p":6,"k":"q","x":9.85,"y":0.76},{"p":6,"k":"q","x":9.2,"y":1.05},{"p":6,"k":"q","x":8.85,"y":0.86},{"p":6,"k":"q","x":9.5,"y":0.78},{"p":6,"k":"q","x":9.95,"y":0.66},{"p":6,"k":"q","x":9.35,"y":0.56},
{"p":6,"k":"s","x":9.09,"y":0.53},{"p":6,"k":"s","x":9.82,"y":0.56},{"p":6,"k":"s","x":9.01,"y":0.75},{"p":6,"k":"s","x":9.06,"y":0.88},{"p":6,"k":"s","x":9.11,"y":0.68},{"p":6,"k":"s","x":9.16,"y":0.8},{"p":6,"k":"s","x":9.21,"y":0.92},{"p":6,"k":"s","x":9.26,"y":0.6},{"p":6,"k":"s","x":9.31,"y":0.74},{"p":6,"k":"s","x":9.36,"y":0.86},{"p":6,"k":"s","x":9.41,"y":0.66},{"p":6,"k":"s","x":9.46,"y":0.8},{"p":6,"k":"s","x":9.45,"y":1.0},{"p":6,"k":"s","x":9.51,"y":0.94},{"p":6,"k":"s","x":9.56,"y":0.72},{"p":6,"k":"s","x":9.61,"y":0.84},{"p":6,"k":"s","x":9.66,"y":0.62},{"p":6,"k":"s","x":9.71,"y":0.78},{"p":6,"k":"s","x":9.7,"y":1.06},{"p":6,"k":"s","x":9.76,"y":0.9},{"p":6,"k":"s","x":9.81,"y":0.7},{"p":6,"k":"s","x":9.86,"y":0.84},{"p":6,"k":"s","x":9.91,"y":0.96},{"p":6,"k":"s","x":9.93,"y":1.14},{"p":6,"k":"s","x":9.96,"y":0.76},{"p":6,"k":"s","x":10.0,"y":1.16},{"p":6,"k":"s","x":10.01,"y":0.88},{"p":6,"k":"s","x":10.06,"y":0.7},{"p":6,"k":"s","x":10.1,"y":0.66},{"p":6,"k":"s","x":10.11,"y":0.82},{"p":6,"k":"s","x":10.16,"y":0.94},{"p":6,"k":"s","x":10.21,"y":0.76},{"p":6,"k":"s","x":10.26,"y":1.04},{"p":6,"k":"s","x":10.31,"y":0.86},{"p":6,"k":"s","x":10.35,"y":1.17},{"p":6,"k":"s","x":10.36,"y":0.92},{"p":6,"k":"s","x":10.41,"y":0.78},{"p":6,"k":"s","x":10.4,"y":1.08},{"p":6,"k":"s","x":10.46,"y":0.98},{"p":6,"k":"s","x":10.51,"y":0.88},{"p":6,"k":"s","x":10.55,"y":1.35},{"p":6,"k":"s","x":10.56,"y":0.74},{"p":6,"k":"s","x":10.61,"y":0.94},{"p":6,"k":"s","x":10.66,"y":1.04},{"p":6,"k":"s","x":10.71,"y":0.84},{"p":6,"k":"s","x":10.7,"y":0.7},{"p":6,"k":"s","x":10.76,"y":0.96},{"p":6,"k":"s","x":10.81,"y":1.06},{"p":6,"k":"s","x":10.86,"y":0.78},{"p":6,"k":"s","x":10.91,"y":0.92},{"p":6,"k":"s","x":10.92,"y":1.14},{"p":6,"k":"s","x":10.96,"y":1.0},{"p":6,"k":"s","x":11.01,"y":0.86},{"p":6,"k":"s","x":11.06,"y":0.96},{"p":6,"k":"s","x":11.11,"y":1.02},{"p":6,"k":"s","x":11.16,"y":0.9},{"p":6,"k":"s","x":11.22,"y":1.04},{"p":6,"k":"s","x":11.3,"y":0.98},{"p":6,"k":"s","x":11.41,"y":1.09},
{"p":7,"k":"q","x":8.46,"y":0.72},{"p":7,"k":"q","x":8.46,"y":0.42},{"p":7,"k":"q","x":8.68,"y":0.66},{"p":7,"k":"q","x":8.91,"y":0.57},{"p":7,"k":"q","x":8.87,"y":0.9},{"p":7,"k":"q","x":9.02,"y":1.0},{"p":7,"k":"q","x":9.17,"y":1.01},{"p":7,"k":"q","x":9.32,"y":0.9},{"p":7,"k":"q","x":9.51,"y":1.28},{"p":7,"k":"q","x":9.4,"y":0.8},{"p":7,"k":"q","x":9.47,"y":0.7},{"p":7,"k":"q","x":9.62,"y":0.65},{"p":7,"k":"q","x":9.7,"y":1.0},{"p":7,"k":"q","x":9.78,"y":0.85},{"p":7,"k":"q","x":9.89,"y":0.95},{"p":7,"k":"q","x":10.0,"y":1.05},{"p":7,"k":"q","x":10.08,"y":0.8},{"p":7,"k":"q","x":10.15,"y":0.7},{"p":7,"k":"q","x":10.23,"y":0.9},{"p":7,"k":"q","x":10.34,"y":1.0},{"p":7,"k":"q","x":10.45,"y":0.8},{"p":7,"k":"q","x":9.17,"y":0.7},{"p":7,"k":"q","x":9.28,"y":0.57},{"p":7,"k":"q","x":9.1,"y":0.8},{"p":7,"k":"q","x":8.98,"y":0.52},{"p":7,"k":"q","x":9.47,"y":0.52},{"p":7,"k":"q","x":9.66,"y":0.49},{"p":7,"k":"q","x":9.85,"y":0.57},{"p":7,"k":"q","x":9.55,"y":0.9},{"p":7,"k":"q","x":9.74,"y":1.13},{"p":7,"k":"q","x":9.3,"y":0.3},{"p":7,"k":"q","x":9.25,"y":0.85},{"p":7,"k":"q","x":9.93,"y":0.72},{"p":7,"k":"q","x":9.66,"y":0.77},{"p":7,"k":"q","x":9.4,"y":0.97},{"p":7,"k":"q","x":10.08,"y":0.97},{"p":7,"k":"q","x":9.78,"y":0.65},{"p":7,"k":"q","x":10.27,"y":0.77},{"p":7,"k":"q","x":8.75,"y":0.82},{"p":7,"k":"q","x":9.58,"y":0.6},{"p":7,"k":"q","x":9.86,"y":0.88},{"p":7,"k":"q","x":9.2,"y":0.62},
{"p":7,"k":"q","x":9.05,"y":0.88},{"p":7,"k":"q","x":9.15,"y":0.64},{"p":7,"k":"q","x":9.25,"y":0.95},{"p":7,"k":"q","x":9.35,"y":0.72},{"p":7,"k":"q","x":9.45,"y":0.86},{"p":7,"k":"q","x":9.55,"y":0.76},{"p":7,"k":"q","x":9.65,"y":0.92},{"p":7,"k":"q","x":9.75,"y":0.7},{"p":7,"k":"q","x":9.85,"y":1.0},{"p":7,"k":"q","x":9.95,"y":0.84},{"p":7,"k":"q","x":10.05,"y":0.68},{"p":7,"k":"q","x":10.15,"y":0.92},{"p":7,"k":"q","x":10.25,"y":0.84},{"p":7,"k":"q","x":10.35,"y":0.7},{"p":7,"k":"q","x":9.6,"y":1.05},{"p":7,"k":"q","x":9.0,"y":0.74},{"p":7,"k":"q","x":9.3,"y":1.08},{"p":7,"k":"q","x":9.9,"y":0.6},{"p":7,"k":"q","x":10.4,"y":0.92},{"p":7,"k":"q","x":8.95,"y":0.66},
{"p":7,"k":"s","x":9.1,"y":0.44},{"p":7,"k":"s","x":9.17,"y":0.42},{"p":7,"k":"s","x":9.31,"y":0.72},{"p":7,"k":"s","x":9.41,"y":0.62},{"p":7,"k":"s","x":9.51,"y":0.82},{"p":7,"k":"s","x":9.56,"y":0.68},{"p":7,"k":"s","x":9.61,"y":0.56},{"p":7,"k":"s","x":9.66,"y":0.9},{"p":7,"k":"s","x":9.71,"y":0.74},{"p":7,"k":"s","x":9.76,"y":0.62},{"p":7,"k":"s","x":9.81,"y":1.25},{"p":7,"k":"s","x":9.79,"y":0.84},{"p":7,"k":"s","x":9.86,"y":0.7},{"p":7,"k":"s","x":9.91,"y":0.94},{"p":7,"k":"s","x":9.95,"y":1.0},{"p":7,"k":"s","x":9.96,"y":0.78},{"p":7,"k":"s","x":10.01,"y":0.66},{"p":7,"k":"s","x":10.04,"y":1.23},{"p":7,"k":"s","x":10.06,"y":0.86},{"p":7,"k":"s","x":10.11,"y":0.74},{"p":7,"k":"s","x":10.16,"y":0.96},{"p":7,"k":"s","x":10.15,"y":0.58},{"p":7,"k":"s","x":10.21,"y":0.82},{"p":7,"k":"s","x":10.26,"y":0.7},{"p":7,"k":"s","x":10.27,"y":1.23},{"p":7,"k":"s","x":10.29,"y":0.6},{"p":7,"k":"s","x":10.31,"y":0.9},{"p":7,"k":"s","x":10.3,"y":1.08},{"p":7,"k":"s","x":10.36,"y":0.8},{"p":7,"k":"s","x":10.41,"y":1.0},{"p":7,"k":"s","x":10.39,"y":0.72},{"p":7,"k":"s","x":10.46,"y":0.86},{"p":7,"k":"s","x":10.51,"y":0.94},{"p":7,"k":"s","x":10.56,"y":0.78},{"p":7,"k":"s","x":10.61,"y":0.9},{"p":7,"k":"s","x":10.6,"y":0.66},{"p":7,"k":"s","x":10.66,"y":1.04},{"p":7,"k":"s","x":10.71,"y":0.84},{"p":7,"k":"s","x":10.76,"y":0.96},{"p":7,"k":"s","x":10.81,"y":0.76},{"p":7,"k":"s","x":10.86,"y":0.92},{"p":7,"k":"s","x":10.85,"y":0.7},{"p":7,"k":"s","x":10.91,"y":1.02},{"p":7,"k":"s","x":10.94,"y":1.17},{"p":7,"k":"s","x":10.96,"y":0.86},{"p":7,"k":"s","x":11.01,"y":0.96},{"p":7,"k":"s","x":11.06,"y":0.88},{"p":7,"k":"s","x":11.11,"y":1.04},{"p":7,"k":"s","x":11.16,"y":0.94},{"p":7,"k":"s","x":11.21,"y":0.84},{"p":7,"k":"s","x":11.26,"y":1.0},{"p":7,"k":"s","x":11.31,"y":1.06},{"p":7,"k":"s","x":11.36,"y":0.9},{"p":7,"k":"s","x":11.46,"y":0.98},{"p":7,"k":"s","x":11.81,"y":1.15},
{"p":8,"k":"q","x":8.88,"y":0.54},{"p":8,"k":"q","x":8.98,"y":0.95},{"p":8,"k":"q","x":9.09,"y":0.9},{"p":8,"k":"q","x":9.32,"y":1.05},{"p":8,"k":"q","x":9.4,"y":0.65},{"p":8,"k":"q","x":9.47,"y":0.47},{"p":8,"k":"q","x":9.59,"y":1.03},{"p":8,"k":"q","x":9.63,"y":0.8},{"p":8,"k":"q","x":9.25,"y":0.77},{"p":8,"k":"q","x":9.17,"y":0.7},{"p":8,"k":"q","x":9.32,"y":0.6},{"p":8,"k":"q","x":9.55,"y":0.6},{"p":8,"k":"q","x":9.7,"y":0.7},{"p":8,"k":"q","x":9.74,"y":0.95},{"p":8,"k":"q","x":9.93,"y":1.15},{"p":8,"k":"q","x":9.89,"y":1.0},{"p":8,"k":"q","x":10.04,"y":1.03},{"p":8,"k":"q","x":10.12,"y":0.9},{"p":8,"k":"q","x":10.23,"y":1.33},{"p":8,"k":"q","x":10.27,"y":1.15},{"p":8,"k":"q","x":10.35,"y":0.95},{"p":8,"k":"q","x":10.46,"y":1.1},{"p":8,"k":"q","x":10.16,"y":0.7},{"p":8,"k":"q","x":10.23,"y":0.62},{"p":8,"k":"q","x":10.35,"y":0.67},{"p":8,"k":"q","x":9.78,"y":0.52},{"p":8,"k":"q","x":9.93,"y":0.62},{"p":8,"k":"q","x":9.05,"y":0.7},{"p":8,"k":"q","x":9.17,"y":0.85},{"p":8,"k":"q","x":9.4,"y":0.82},{"p":8,"k":"q","x":9.51,"y":0.72},{"p":8,"k":"q","x":9.66,"y":0.62},{"p":8,"k":"q","x":9.82,"y":0.82},{"p":8,"k":"q","x":10.04,"y":0.75},{"p":8,"k":"q","x":9.59,"y":0.9},{"p":8,"k":"q","x":9.32,"y":0.92},{"p":8,"k":"q","x":8.94,"y":0.75},{"p":8,"k":"q","x":9.13,"y":0.6},{"p":8,"k":"q","x":10.8,"y":1.21},{"p":8,"k":"q","x":10.0,"y":0.9},{"p":8,"k":"q","x":10.08,"y":0.65},{"p":8,"k":"q","x":9.51,"y":0.55},{"p":8,"k":"q","x":9.25,"y":0.5},{"p":8,"k":"q","x":9.45,"y":1.12},{"p":8,"k":"q","x":9.85,"y":0.72},{"p":8,"k":"q","x":10.55,"y":0.9},
{"p":8,"k":"q","x":9.2,"y":0.8},{"p":8,"k":"q","x":9.3,"y":0.68},{"p":8,"k":"q","x":9.45,"y":0.78},{"p":8,"k":"q","x":9.55,"y":0.7},{"p":8,"k":"q","x":9.65,"y":0.86},{"p":8,"k":"q","x":9.75,"y":0.78},{"p":8,"k":"q","x":9.85,"y":0.92},{"p":8,"k":"q","x":9.95,"y":0.85},{"p":8,"k":"q","x":10.1,"y":0.82},{"p":8,"k":"q","x":10.2,"y":0.96},{"p":8,"k":"q","x":10.3,"y":0.84},{"p":8,"k":"q","x":10.4,"y":0.76},{"p":8,"k":"q","x":9.1,"y":0.62},{"p":8,"k":"q","x":9.6,"y":0.95},{"p":8,"k":"q","x":10.0,"y":0.7},
{"p":8,"k":"s","x":9.7,"y":1.21},{"p":8,"k":"s","x":10.27,"y":1.21},{"p":8,"k":"s","x":10.88,"y":1.18},{"p":8,"k":"s","x":10.77,"y":1.09},{"p":8,"k":"s","x":10.58,"y":1.01},{"p":8,"k":"s","x":10.08,"y":1.0},{"p":8,"k":"s","x":10.0,"y":0.95},{"p":8,"k":"s","x":9.89,"y":0.75},{"p":8,"k":"s","x":9.93,"y":0.57},{"p":8,"k":"s","x":9.4,"y":0.71},{"p":8,"k":"s","x":9.47,"y":0.87},{"p":8,"k":"s","x":9.82,"y":0.85},{"p":8,"k":"s","x":10.02,"y":0.82},{"p":8,"k":"s","x":10.16,"y":0.85},{"p":8,"k":"s","x":10.08,"y":0.77},{"p":8,"k":"s","x":10.23,"y":0.92},{"p":8,"k":"s","x":10.35,"y":1.05},{"p":8,"k":"s","x":10.37,"y":0.8},{"p":8,"k":"s","x":10.46,"y":0.7},{"p":8,"k":"s","x":10.54,"y":0.72},{"p":8,"k":"s","x":10.6,"y":0.67},{"p":8,"k":"s","x":10.69,"y":0.85},{"p":8,"k":"s","x":10.77,"y":0.9},{"p":8,"k":"s","x":10.84,"y":0.82},{"p":8,"k":"s","x":11.03,"y":0.92},{"p":8,"k":"s","x":11.15,"y":0.87},{"p":8,"k":"s","x":11.53,"y":0.82},{"p":8,"k":"s","x":10.31,"y":0.61},{"p":8,"k":"s","x":10.16,"y":0.62},{"p":8,"k":"s","x":9.98,"y":0.72},{"p":8,"k":"s","x":9.93,"y":0.81},{"p":8,"k":"s","x":10.23,"y":0.77},{"p":8,"k":"s","x":10.46,"y":0.85},{"p":8,"k":"s","x":10.62,"y":0.95},{"p":8,"k":"s","x":10.92,"y":0.9},{"p":8,"k":"s","x":9.78,"y":0.65}
]},
"title":{"text":"星の総質量の対数（太陽質量）","orient":"bottom","anchor":"middle","font":"Noto Sans CJK JP","fontSize":20,"fontWeight":300,"color":"#222","offset":12,"dx":38},
"vconcat":[{
"title":{"text":"銀河の直径の対数（キロパーセク）","orient":"left","anchor":"middle","font":"Noto Sans CJK JP","fontSize":20,"fontWeight":300,"color":"#222","offset":10},
"data":{"name":"d"},
"columns":2,"spacing":0,"bounds":"flush",
"concat":[
{"transform":[{"filter":"datum.p==1"}],"layer":[
{"transform":[{"filter":"datum.k=='q'"}],"mark":{"type":"square","size":4,"color":"#29a8e0","opacity":1,"clip":true},"encoding":{"x":{"field":"x","type":"quantitative","scale":{"domain":[7,12],"nice":false},"axis":{"orient":"bottom","title":null,"values":[7,7.5,8,8.5,9,9.5,10,10.5,11,11.5,12],"labels":false}},"y":{"field":"y","type":"quantitative","scale":{"domain":[0.2,1.6],"nice":false,"zero":false},"axis":{"orient":"left","title":null,"values":[0.2,0.3,0.4,0.5,0.6,0.7,0.8,0.9,1,1.1,1.2,1.3,1.4,1.5,1.6],"labels":true,"labelExpr":"abs(datum.value*2-round(datum.value*2))<0.001 ? format(datum.value,'~g') : ''"}}}},
{"transform":[{"filter":"datum.k=='s'"}],"mark":{"type":"square","size":9,"color":"#111","opacity":1,"clip":true},"encoding":{"x":{"field":"x","type":"quantitative","axis":{"orient":"top","title":null,"values":[7,7.5,8,8.5,9,9.5,10,10.5,11,11.5,12],"labels":false}},"y":{"field":"y","type":"quantitative","axis":{"orient":"right","title":null,"values":[0.2,0.3,0.4,0.5,0.6,0.7,0.8,0.9,1,1.1,1.2,1.3,1.4,1.5,1.6],"labels":false}}}},
{"transform":[{"filter":"datum.k=='f'"}],"mark":{"type":"rule","color":"#111","strokeWidth":1},"encoding":{"x":{"datum":7,"type":"quantitative","axis":null},"x2":{"datum":12},"y":{"field":"a","type":"quantitative","axis":null},"y2":{"field":"b"}}},
{"transform":[{"filter":"datum.k=='f'"}],"mark":{"type":"text","align":"right","baseline":"middle","font":"Liberation Sans","fontSize":12,"color":"#222"},"encoding":{"x":{"datum":11.75,"type":"quantitative","axis":null},"y":{"datum":0.45,"type":"quantitative","axis":null},"text":{"field":"lab"}}}
]},
{"transform":[{"filter":"datum.p==2"}],"layer":[
{"transform":[{"filter":"datum.k=='q'"}],"mark":{"type":"square","size":4,"color":"#29a8e0","opacity":1,"clip":true},"encoding":{"x":{"field":"x","type":"quantitative","scale":{"domain":[7,12],"nice":false},"axis":{"orient":"bottom","title":null,"values":[7,7.5,8,8.5,9,9.5,10,10.5,11,11.5,12],"labels":false}},"y":{"field":"y","type":"quantitative","scale":{"domain":[0.2,1.6],"nice":false,"zero":false},"axis":{"orient":"left","title":null,"values":[0.2,0.3,0.4,0.5,0.6,0.7,0.8,0.9,1,1.1,1.2,1.3,1.4,1.5,1.6],"labels":false}}}},
{"transform":[{"filter":"datum.k=='s'"}],"mark":{"type":"square","size":9,"color":"#111","opacity":1,"clip":true},"encoding":{"x":{"field":"x","type":"quantitative","axis":{"orient":"top","title":null,"values":[7,7.5,8,8.5,9,9.5,10,10.5,11,11.5,12],"labels":false}},"y":{"field":"y","type":"quantitative","axis":{"orient":"right","title":null,"values":[0.2,0.3,0.4,0.5,0.6,0.7,0.8,0.9,1,1.1,1.2,1.3,1.4,1.5,1.6],"labels":false}}}},
{"transform":[{"filter":"datum.k=='f'"}],"mark":{"type":"rule","color":"#111","strokeWidth":1},"encoding":{"x":{"datum":7,"type":"quantitative","axis":null},"x2":{"datum":12},"y":{"field":"a","type":"quantitative","axis":null},"y2":{"field":"b"}}},
{"transform":[{"filter":"datum.k=='f'"}],"mark":{"type":"text","align":"right","baseline":"middle","font":"Liberation Sans","fontSize":12,"color":"#222"},"encoding":{"x":{"datum":11.75,"type":"quantitative","axis":null},"y":{"datum":0.45,"type":"quantitative","axis":null},"text":{"field":"lab"}}}
]},
{"transform":[{"filter":"datum.p==3"}],"layer":[
{"transform":[{"filter":"datum.k=='q'"}],"mark":{"type":"square","size":4,"color":"#29a8e0","opacity":1,"clip":true},"encoding":{"x":{"field":"x","type":"quantitative","scale":{"domain":[7,12],"nice":false},"axis":{"orient":"bottom","title":null,"values":[7,7.5,8,8.5,9,9.5,10,10.5,11,11.5,12],"labels":false}},"y":{"field":"y","type":"quantitative","scale":{"domain":[0.2,1.6],"nice":false,"zero":false},"axis":{"orient":"left","title":null,"values":[0.2,0.3,0.4,0.5,0.6,0.7,0.8,0.9,1,1.1,1.2,1.3,1.4,1.5,1.6],"labels":true,"labelExpr":"abs(datum.value*2-round(datum.value*2))<0.001 ? format(datum.value,'~g') : ''"}}}},
{"transform":[{"filter":"datum.k=='s'"}],"mark":{"type":"square","size":9,"color":"#111","opacity":1,"clip":true},"encoding":{"x":{"field":"x","type":"quantitative","axis":{"orient":"top","title":null,"values":[7,7.5,8,8.5,9,9.5,10,10.5,11,11.5,12],"labels":false}},"y":{"field":"y","type":"quantitative","axis":{"orient":"right","title":null,"values":[0.2,0.3,0.4,0.5,0.6,0.7,0.8,0.9,1,1.1,1.2,1.3,1.4,1.5,1.6],"labels":false}}}},
{"transform":[{"filter":"datum.k=='f'"}],"mark":{"type":"rule","color":"#111","strokeWidth":1},"encoding":{"x":{"datum":7,"type":"quantitative","axis":null},"x2":{"datum":12},"y":{"field":"a","type":"quantitative","axis":null},"y2":{"field":"b"}}},
{"transform":[{"filter":"datum.k=='f'"}],"mark":{"type":"text","align":"right","baseline":"middle","font":"Liberation Sans","fontSize":12,"color":"#222"},"encoding":{"x":{"datum":11.75,"type":"quantitative","axis":null},"y":{"datum":0.45,"type":"quantitative","axis":null},"text":{"field":"lab"}}}
]},
{"transform":[{"filter":"datum.p==4"}],"layer":[
{"transform":[{"filter":"datum.k=='q'"}],"mark":{"type":"square","size":4,"color":"#29a8e0","opacity":1,"clip":true},"encoding":{"x":{"field":"x","type":"quantitative","scale":{"domain":[7,12],"nice":false},"axis":{"orient":"bottom","title":null,"values":[7,7.5,8,8.5,9,9.5,10,10.5,11,11.5,12],"labels":false}},"y":{"field":"y","type":"quantitative","scale":{"domain":[0.2,1.6],"nice":false,"zero":false},"axis":{"orient":"left","title":null,"values":[0.2,0.3,0.4,0.5,0.6,0.7,0.8,0.9,1,1.1,1.2,1.3,1.4,1.5,1.6],"labels":false}}}},
{"transform":[{"filter":"datum.k=='s'"}],"mark":{"type":"square","size":9,"color":"#111","opacity":1,"clip":true},"encoding":{"x":{"field":"x","type":"quantitative","axis":{"orient":"top","title":null,"values":[7,7.5,8,8.5,9,9.5,10,10.5,11,11.5,12],"labels":false}},"y":{"field":"y","type":"quantitative","axis":{"orient":"right","title":null,"values":[0.2,0.3,0.4,0.5,0.6,0.7,0.8,0.9,1,1.1,1.2,1.3,1.4,1.5,1.6],"labels":false}}}},
{"transform":[{"filter":"datum.k=='f'"}],"mark":{"type":"rule","color":"#111","strokeWidth":1},"encoding":{"x":{"datum":7,"type":"quantitative","axis":null},"x2":{"datum":12},"y":{"field":"a","type":"quantitative","axis":null},"y2":{"field":"b"}}},
{"transform":[{"filter":"datum.k=='f'"}],"mark":{"type":"text","align":"right","baseline":"middle","font":"Liberation Sans","fontSize":12,"color":"#222"},"encoding":{"x":{"datum":11.75,"type":"quantitative","axis":null},"y":{"datum":0.45,"type":"quantitative","axis":null},"text":{"field":"lab"}}}
]},
{"transform":[{"filter":"datum.p==5"}],"layer":[
{"transform":[{"filter":"datum.k=='q'"}],"mark":{"type":"square","size":4,"color":"#29a8e0","opacity":1,"clip":true},"encoding":{"x":{"field":"x","type":"quantitative","scale":{"domain":[7,12],"nice":false},"axis":{"orient":"bottom","title":null,"values":[7,7.5,8,8.5,9,9.5,10,10.5,11,11.5,12],"labels":false}},"y":{"field":"y","type":"quantitative","scale":{"domain":[0.2,1.6],"nice":false,"zero":false},"axis":{"orient":"left","title":null,"values":[0.2,0.3,0.4,0.5,0.6,0.7,0.8,0.9,1,1.1,1.2,1.3,1.4,1.5,1.6],"labels":true,"labelExpr":"abs(datum.value*2-round(datum.value*2))<0.001 ? format(datum.value,'~g') : ''"}}}},
{"transform":[{"filter":"datum.k=='s'"}],"mark":{"type":"square","size":9,"color":"#111","opacity":1,"clip":true},"encoding":{"x":{"field":"x","type":"quantitative","axis":{"orient":"top","title":null,"values":[7,7.5,8,8.5,9,9.5,10,10.5,11,11.5,12],"labels":false}},"y":{"field":"y","type":"quantitative","axis":{"orient":"right","title":null,"values":[0.2,0.3,0.4,0.5,0.6,0.7,0.8,0.9,1,1.1,1.2,1.3,1.4,1.5,1.6],"labels":false}}}},
{"transform":[{"filter":"datum.k=='f'"}],"mark":{"type":"rule","color":"#111","strokeWidth":1},"encoding":{"x":{"datum":7,"type":"quantitative","axis":null},"x2":{"datum":12},"y":{"field":"a","type":"quantitative","axis":null},"y2":{"field":"b"}}},
{"transform":[{"filter":"datum.k=='f'"}],"mark":{"type":"text","align":"right","baseline":"middle","font":"Liberation Sans","fontSize":12,"color":"#222"},"encoding":{"x":{"datum":11.75,"type":"quantitative","axis":null},"y":{"datum":0.45,"type":"quantitative","axis":null},"text":{"field":"lab"}}}
]},
{"transform":[{"filter":"datum.p==6"}],"layer":[
{"transform":[{"filter":"datum.k=='q'"}],"mark":{"type":"square","size":4,"color":"#29a8e0","opacity":1,"clip":true},"encoding":{"x":{"field":"x","type":"quantitative","scale":{"domain":[7,12],"nice":false},"axis":{"orient":"bottom","title":null,"values":[7,7.5,8,8.5,9,9.5,10,10.5,11,11.5,12],"labels":false}},"y":{"field":"y","type":"quantitative","scale":{"domain":[0.2,1.6],"nice":false,"zero":false},"axis":{"orient":"left","title":null,"values":[0.2,0.3,0.4,0.5,0.6,0.7,0.8,0.9,1,1.1,1.2,1.3,1.4,1.5,1.6],"labels":false}}}},
{"transform":[{"filter":"datum.k=='s'"}],"mark":{"type":"square","size":9,"color":"#111","opacity":1,"clip":true},"encoding":{"x":{"field":"x","type":"quantitative","axis":{"orient":"top","title":null,"values":[7,7.5,8,8.5,9,9.5,10,10.5,11,11.5,12],"labels":false}},"y":{"field":"y","type":"quantitative","axis":{"orient":"right","title":null,"values":[0.2,0.3,0.4,0.5,0.6,0.7,0.8,0.9,1,1.1,1.2,1.3,1.4,1.5,1.6],"labels":false}}}},
{"transform":[{"filter":"datum.k=='f'"}],"mark":{"type":"rule","color":"#111","strokeWidth":1},"encoding":{"x":{"datum":7,"type":"quantitative","axis":null},"x2":{"datum":12},"y":{"field":"a","type":"quantitative","axis":null},"y2":{"field":"b"}}},
{"transform":[{"filter":"datum.k=='f'"}],"mark":{"type":"text","align":"right","baseline":"middle","font":"Liberation Sans","fontSize":12,"color":"#222"},"encoding":{"x":{"datum":11.75,"type":"quantitative","axis":null},"y":{"datum":0.45,"type":"quantitative","axis":null},"text":{"field":"lab"}}}
]},
{"transform":[{"filter":"datum.p==7"}],"layer":[
{"transform":[{"filter":"datum.k=='q'"}],"mark":{"type":"square","size":4,"color":"#29a8e0","opacity":1,"clip":true},"encoding":{"x":{"field":"x","type":"quantitative","scale":{"domain":[7,12],"nice":false},"axis":{"orient":"bottom","title":null,"values":[7,7.5,8,8.5,9,9.5,10,10.5,11,11.5,12],"labels":true,"labelExpr":"abs(datum.value-round(datum.value))<0.001 && datum.value<11.9 ? format(datum.value,'~g') : ''"}},"y":{"field":"y","type":"quantitative","scale":{"domain":[0.2,1.6],"nice":false,"zero":false},"axis":{"orient":"left","title":null,"values":[0.2,0.3,0.4,0.5,0.6,0.7,0.8,0.9,1,1.1,1.2,1.3,1.4,1.5,1.6],"labels":true,"labelExpr":"abs(datum.value*2-round(datum.value*2))<0.001 ? format(datum.value,'~g') : ''"}}}},
{"transform":[{"filter":"datum.k=='s'"}],"mark":{"type":"square","size":9,"color":"#111","opacity":1,"clip":true},"encoding":{"x":{"field":"x","type":"quantitative","axis":{"orient":"top","title":null,"values":[7,7.5,8,8.5,9,9.5,10,10.5,11,11.5,12],"labels":false}},"y":{"field":"y","type":"quantitative","axis":{"orient":"right","title":null,"values":[0.2,0.3,0.4,0.5,0.6,0.7,0.8,0.9,1,1.1,1.2,1.3,1.4,1.5,1.6],"labels":false}}}},
{"transform":[{"filter":"datum.k=='f'"}],"mark":{"type":"rule","color":"#111","strokeWidth":1},"encoding":{"x":{"datum":7,"type":"quantitative","axis":null},"x2":{"datum":12},"y":{"field":"a","type":"quantitative","axis":null},"y2":{"field":"b"}}},
{"transform":[{"filter":"datum.k=='f'"}],"mark":{"type":"text","align":"right","baseline":"middle","font":"Liberation Sans","fontSize":12,"color":"#222"},"encoding":{"x":{"datum":11.75,"type":"quantitative","axis":null},"y":{"datum":0.45,"type":"quantitative","axis":null},"text":{"field":"lab"}}}
]},
{"transform":[{"filter":"datum.p==8"}],"layer":[
{"transform":[{"filter":"datum.k=='q'"}],"mark":{"type":"square","size":4,"color":"#29a8e0","opacity":1,"clip":true},"encoding":{"x":{"field":"x","type":"quantitative","scale":{"domain":[7,12],"nice":false},"axis":{"orient":"bottom","title":null,"values":[7,7.5,8,8.5,9,9.5,10,10.5,11,11.5,12],"labels":true,"labelExpr":"abs(datum.value-round(datum.value))<0.001 ? format(datum.value,'~g') : ''"}},"y":{"field":"y","type":"quantitative","scale":{"domain":[0.2,1.6],"nice":false,"zero":false},"axis":{"orient":"left","title":null,"values":[0.2,0.3,0.4,0.5,0.6,0.7,0.8,0.9,1,1.1,1.2,1.3,1.4,1.5,1.6],"labels":false}}}},
{"transform":[{"filter":"datum.k=='s'"}],"mark":{"type":"square","size":9,"color":"#111","opacity":1,"clip":true},"encoding":{"x":{"field":"x","type":"quantitative","axis":{"orient":"top","title":null,"values":[7,7.5,8,8.5,9,9.5,10,10.5,11,11.5,12],"labels":false}},"y":{"field":"y","type":"quantitative","axis":{"orient":"right","title":null,"values":[0.2,0.3,0.4,0.5,0.6,0.7,0.8,0.9,1,1.1,1.2,1.3,1.4,1.5,1.6],"labels":false}}}},
{"transform":[{"filter":"datum.k=='f'"}],"mark":{"type":"rule","color":"#111","strokeWidth":1},"encoding":{"x":{"datum":7,"type":"quantitative","axis":null},"x2":{"datum":12},"y":{"field":"a","type":"quantitative","axis":null},"y2":{"field":"b"}}},
{"transform":[{"filter":"datum.k=='f'"}],"mark":{"type":"text","align":"right","baseline":"middle","font":"Liberation Sans","fontSize":12,"color":"#222"},"encoding":{"x":{"datum":11.75,"type":"quantitative","axis":null},"y":{"datum":0.45,"type":"quantitative","axis":null},"text":{"field":"lab"}}}
]}
]}],
"config":{
"view":{"stroke":"#222","strokeWidth":1.3,"continuousWidth":221,"continuousHeight":92},
"axis":{"domain":false,"grid":false,"tickColor":"#222","tickWidth":1,"labelFont":"Liberation Sans","labelColor":"#222","labelPadding":8,"labelFlush":false,"labelBound":false,"labelOverlap":false},
"axisX":{"labelFontSize":9,"tickSize":{"condition":{"test":"abs(datum.value-round(datum.value))<0.001","value":-5},"value":-3}},
"axisY":{"labelFontSize":9.5,"tickSize":{"condition":{"test":"abs(datum.value*2-round(datum.value*2))<0.001","value":-5},"value":-3}}
}
}
